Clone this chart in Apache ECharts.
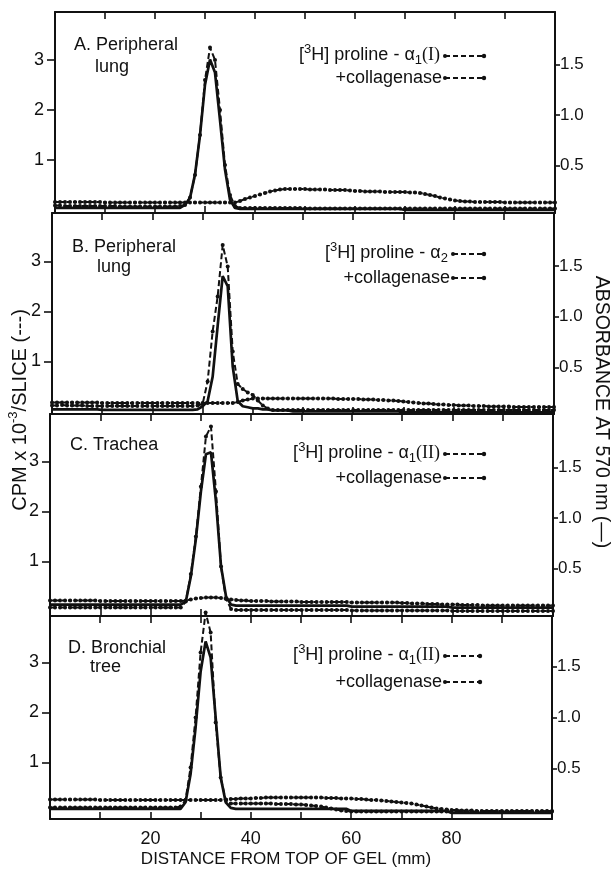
<!DOCTYPE html>
<html><head><meta charset="utf-8">
<script src="https://cdn.jsdelivr.net/npm/echarts@6/dist/echarts.min.js"></script>
<style>html,body{margin:0;padding:0;background:#fff}#c{width:612px;height:870px}</style>
</head><body><div id="c"></div>
<script>
// ---------- DATA ----------
const X_MM = [0,1,2,3,4,5,6,7,8,9,10,11,12,13,14,15,16,17,18,19,20,21,22,23,24,25,26,27,28,29,30,31,32,33,34,35,36,37,38,39,40,41,42,43,44,45,46,47,48,49,50,51,52,53,54,55,56,57,58,59,60,61,62,63,64,65,66,67,68,69,70,71,72,73,74,75,76,77,78,79,80,81,82,83,84,85,86,87,88,89,90,91,92,93,94,95,96,97,98,99,100];

// Panel A: peripheral lung, alpha1(I)
const CPM_A = [0.09,0.09,0.08,0.08,0.08,0.08,0.08,0.08,0.08,0.08,
 0.08,0.08,0.08,0.07,0.07,0.07,0.07,0.07,0.07,0.07,
 0.07,0.07,0.07,0.07,0.07,0.08,0.10,0.25,0.70,1.50,
 2.60,3.25,3.00,2.00,0.90,0.30,0.08,0.04,0.04,0.04,
 0.04,0.04,0.04,0.04,0.04,0.04,0.04,0.04,0.04,0.04,
 0.03,0.03,0.03,0.03,0.03,0.03,0.03,0.03,0.03,0.03,
 0.03,0.03,0.03,0.03,0.03,0.03,0.03,0.03,0.03,0.03,
 0.03,0.03,0.03,0.03,0.03,0.03,0.03,0.03,0.03,0.03,
 0.03,0.03,0.03,0.03,0.03,0.03,0.03,0.03,0.03,0.03,
 0.03,0.03,0.03,0.03,0.03,0.03,0.03,0.03,0.03,0.03,0.03];
const ABS_A = [0.08,0.08,0.08,0.08,0.08,0.08,0.08,0.08,0.08,0.08,
 0.08,0.08,0.08,0.08,0.08,0.08,0.08,0.08,0.08,0.08,
 0.08,0.08,0.08,0.08,0.08,0.08,0.11,0.18,0.41,0.80,
 1.30,1.55,1.42,0.95,0.46,0.16,0.08,0.07,0.07,0.07,
 0.07,0.07,0.07,0.07,0.07,0.07,0.07,0.07,0.07,0.07,
 0.07,0.07,0.07,0.07,0.07,0.07,0.07,0.07,0.07,0.07,
 0.07,0.07,0.07,0.07,0.07,0.07,0.07,0.07,0.07,0.07,
 0.06,0.06,0.06,0.06,0.06,0.06,0.06,0.06,0.06,0.06,
 0.06,0.06,0.06,0.06,0.06,0.06,0.06,0.06,0.06,0.06,
 0.06,0.06,0.06,0.06,0.06,0.06,0.06,0.06,0.06,0.06,0.06];
const COL_A = [0.16,0.16,0.16,0.16,0.16,0.16,0.16,0.16,0.16,0.16,
 0.15,0.15,0.15,0.15,0.15,0.15,0.15,0.15,0.15,0.15,
 0.15,0.15,0.15,0.15,0.15,0.15,0.15,0.15,0.15,0.15,
 0.15,0.15,0.15,0.15,0.15,0.15,0.15,0.18,0.22,0.25,
 0.28,0.31,0.34,0.37,0.39,0.41,0.42,0.42,0.42,0.42,
 0.42,0.41,0.41,0.41,0.41,0.40,0.40,0.40,0.40,0.39,
 0.38,0.38,0.37,0.37,0.37,0.37,0.36,0.36,0.36,0.36,
 0.36,0.35,0.35,0.34,0.32,0.30,0.28,0.25,0.23,0.21,
 0.19,0.18,0.17,0.17,0.16,0.16,0.16,0.16,0.16,0.16,
 0.15,0.15,0.15,0.15,0.15,0.15,0.15,0.15,0.15,0.15,0.15];

// Panel B: peripheral lung, alpha2
const CPM_B = [0.12,0.12,0.13,0.12,0.12,0.12,0.12,0.11,0.11,0.11,
 0.11,0.11,0.11,0.11,0.11,0.11,0.11,0.11,0.11,0.11,
 0.11,0.11,0.11,0.11,0.11,0.11,0.11,0.11,0.11,0.12,
 0.15,0.60,1.60,2.30,3.33,2.90,1.20,0.55,0.45,0.38,
 0.33,0.22,0.12,0.06,0.03,0.03,0.03,0.03,0.03,0.03,
 0.03,0.03,0.03,0.03,0.03,0.03,0.03,0.03,0.03,0.03,
 0.03,0.03,0.03,0.03,0.03,0.03,0.03,0.03,0.03,0.03,
 0.03,0.03,0.03,0.03,0.03,0.03,0.03,0.03,0.03,0.03,
 0.03,0.03,0.03,0.03,0.03,0.03,0.03,0.03,0.03,0.03,
 0.03,0.03,0.03,0.03,0.03,0.03,0.03,0.03,0.03,0.03,0.03];
const ABS_B = [0.09,0.09,0.09,0.09,0.09,0.09,0.09,0.09,0.09,0.09,
 0.085,0.085,0.085,0.085,0.085,0.085,0.085,0.085,0.085,0.085,
 0.085,0.085,0.085,0.085,0.085,0.085,0.085,0.085,0.085,0.09,
 0.12,0.17,0.41,0.91,1.40,1.30,0.51,0.17,0.12,0.11,
 0.10,0.10,0.09,0.09,0.08,0.08,0.08,0.08,0.07,0.07,
 0.07,0.07,0.07,0.07,0.07,0.07,0.07,0.07,0.07,0.07,
 0.07,0.07,0.07,0.07,0.07,0.07,0.07,0.07,0.07,0.07,
 0.06,0.06,0.06,0.06,0.06,0.06,0.06,0.06,0.06,0.06,
 0.06,0.06,0.06,0.06,0.06,0.06,0.06,0.06,0.06,0.06,
 0.06,0.06,0.06,0.06,0.06,0.06,0.06,0.06,0.06,0.06,0.06];
const COL_B = [0.18,0.18,0.18,0.18,0.18,0.18,0.18,0.18,0.18,0.18,
 0.17,0.17,0.17,0.17,0.17,0.17,0.17,0.17,0.17,0.17,
 0.17,0.17,0.17,0.17,0.17,0.17,0.17,0.17,0.17,0.17,
 0.17,0.17,0.17,0.17,0.17,0.17,0.17,0.19,0.22,0.24,
 0.26,0.26,0.26,0.26,0.26,0.26,0.26,0.26,0.26,0.26,
 0.26,0.26,0.26,0.26,0.26,0.26,0.26,0.25,0.25,0.25,
 0.25,0.25,0.24,0.24,0.24,0.23,0.23,0.22,0.22,0.21,
 0.20,0.19,0.18,0.17,0.16,0.16,0.15,0.14,0.14,0.13,
 0.13,0.12,0.12,0.12,0.11,0.11,0.11,0.10,0.10,0.10,
 0.10,0.10,0.09,0.09,0.09,0.09,0.09,0.09,0.09,0.09,0.09];

// Panel C: trachea, alpha1(II)
const CPM_C = [0.08,0.08,0.08,0.08,0.08,0.08,0.08,0.08,0.08,0.08,
 0.08,0.08,0.08,0.08,0.08,0.08,0.08,0.08,0.08,0.08,
 0.08,0.08,0.08,0.08,0.08,0.08,0.08,0.20,0.75,1.50,
 2.50,3.50,3.70,2.40,0.90,0.25,0.05,0.03,0.03,0.03,
 0.03,0.03,0.03,0.03,0.03,0.03,0.03,0.03,0.03,0.03,
 0.03,0.03,0.03,0.03,0.03,0.03,0.03,0.03,0.03,0.03,
 0.02,0.02,0.02,0.02,0.02,0.02,0.02,0.02,0.02,0.02,
 0.02,0.02,0.02,0.02,0.02,0.02,0.02,0.02,0.02,0.02,
 0.01,0.01,0.01,0.01,0.01,0.01,0.01,0.01,0.01,0.01,
 0.01,0.01,0.01,0.01,0.01,0.01,0.01,0.01,0.01,0.01,0.01];
const ABS_C = [0.14,0.14,0.14,0.14,0.14,0.14,0.14,0.14,0.14,0.14,
 0.14,0.14,0.14,0.14,0.14,0.14,0.14,0.14,0.14,0.14,
 0.14,0.14,0.14,0.14,0.14,0.14,0.14,0.17,0.42,0.79,
 1.26,1.63,1.65,1.16,0.52,0.22,0.14,0.13,0.13,0.13,
 0.13,0.13,0.13,0.13,0.13,0.13,0.13,0.13,0.13,0.13,
 0.13,0.13,0.13,0.13,0.13,0.13,0.13,0.13,0.13,0.13,
 0.12,0.12,0.12,0.12,0.12,0.12,0.12,0.12,0.12,0.12,
 0.12,0.12,0.12,0.12,0.12,0.12,0.12,0.12,0.12,0.12,
 0.11,0.11,0.11,0.11,0.11,0.11,0.11,0.11,0.11,0.11,
 0.11,0.11,0.11,0.11,0.11,0.11,0.11,0.11,0.11,0.11,0.11];
const COL_C = [0.22,0.22,0.22,0.22,0.22,0.22,0.22,0.22,0.22,0.22,
 0.21,0.21,0.21,0.21,0.21,0.21,0.21,0.21,0.21,0.21,
 0.21,0.21,0.21,0.21,0.21,0.21,0.21,0.22,0.24,0.26,
 0.27,0.28,0.28,0.28,0.27,0.26,0.24,0.23,0.22,0.22,
 0.21,0.21,0.21,0.21,0.20,0.20,0.20,0.20,0.20,0.20,
 0.19,0.19,0.19,0.19,0.19,0.19,0.19,0.19,0.19,0.19,
 0.18,0.18,0.18,0.18,0.18,0.18,0.18,0.18,0.18,0.18,
 0.17,0.17,0.16,0.16,0.16,0.15,0.15,0.15,0.14,0.14,
 0.14,0.14,0.13,0.13,0.13,0.13,0.12,0.12,0.12,0.12,
 0.12,0.12,0.12,0.12,0.12,0.12,0.12,0.12,0.12,0.12,0.12];

// Panel D: bronchial tree, alpha1(II)
const CPM_D = [0.10,0.10,0.10,0.10,0.10,0.10,0.10,0.10,0.10,0.10,
 0.10,0.10,0.10,0.10,0.10,0.10,0.10,0.10,0.10,0.10,
 0.10,0.10,0.10,0.10,0.10,0.10,0.12,0.25,0.90,1.90,
 3.20,4.00,3.60,1.80,0.70,0.25,0.18,0.18,0.18,0.18,
 0.18,0.18,0.18,0.18,0.18,0.17,0.17,0.17,0.17,0.16,
 0.16,0.15,0.14,0.13,0.12,0.10,0.08,0.06,0.04,0.03,
 0.02,0.02,0.02,0.02,0.02,0.02,0.02,0.02,0.02,0.02,
 0.02,0.02,0.02,0.02,0.02,0.02,0.02,0.02,0.02,0.02,
 0.02,0.02,0.02,0.02,0.02,0.02,0.02,0.02,0.02,0.02,
 0.02,0.02,0.02,0.02,0.02,0.02,0.02,0.02,0.02,0.02,0.02];
const ABS_D = [0.10,0.10,0.10,0.10,0.10,0.10,0.10,0.10,0.10,0.10,
 0.10,0.10,0.10,0.10,0.10,0.10,0.10,0.10,0.10,0.10,
 0.10,0.10,0.10,0.10,0.10,0.10,0.10,0.165,0.44,0.90,
 1.45,1.75,1.59,1.00,0.41,0.165,0.11,0.10,0.10,0.10,
 0.10,0.10,0.10,0.10,0.10,0.10,0.10,0.10,0.10,0.10,
 0.10,0.10,0.10,0.10,0.10,0.10,0.10,0.10,0.10,0.10,
 0.08,0.08,0.08,0.08,0.08,0.08,0.08,0.08,0.08,0.08,
 0.08,0.08,0.08,0.08,0.08,0.08,0.08,0.08,0.08,0.08,
 0.06,0.06,0.06,0.06,0.06,0.06,0.06,0.06,0.06,0.06,
 0.06,0.06,0.06,0.06,0.06,0.06,0.06,0.06,0.06,0.06,0.06];
const COL_D = [0.26,0.26,0.26,0.26,0.26,0.26,0.26,0.26,0.26,0.26,
 0.25,0.25,0.25,0.25,0.25,0.25,0.25,0.25,0.25,0.25,
 0.25,0.25,0.25,0.25,0.25,0.25,0.25,0.25,0.25,0.25,
 0.25,0.25,0.25,0.25,0.25,0.26,0.27,0.27,0.28,0.28,
 0.28,0.29,0.29,0.30,0.30,0.30,0.30,0.30,0.30,0.30,
 0.30,0.30,0.30,0.30,0.30,0.29,0.29,0.29,0.28,0.28,
 0.28,0.27,0.27,0.26,0.25,0.25,0.24,0.23,0.22,0.21,
 0.20,0.19,0.18,0.16,0.14,0.12,0.10,0.08,0.07,0.06,
 0.05,0.05,0.04,0.04,0.04,0.03,0.03,0.03,0.03,0.03,
 0.03,0.03,0.03,0.03,0.03,0.03,0.03,0.03,0.03,0.03,0.03];

const X_LABELS = [20, 40, 60, 80];
const CPM_TICKS = [1, 2, 3];
const ABS_TICKS = [0.5, 1.0, 1.5];
const PANEL_TITLES = [['A. Peripheral', 'lung'], ['B. Peripheral', 'lung'], ['C. Trachea'], ['D. Bronchial', 'tree']];
const CHAIN_SUB = ['1', '2', '1', '1'];
const CHAIN_TYPE = ['(I)', '', '(II)', '(II)'];
const LEGEND_2 = '+collagenase';

const CPM = [CPM_A, CPM_B, CPM_C, CPM_D];
const ABS = [ABS_A, ABS_B, ABS_C, ABS_D];
const COL = [COL_A, COL_B, COL_C, COL_D];

// ---------- LAYOUT ----------
const GRIDS = [
  {left: 55, top: 12, width: 500, height: 201},
  {left: 52, top: 213, width: 502, height: 201},
  {left: 50, top: 414, width: 503, height: 202},
  {left: 50, top: 616, width: 502, height: 203}
];
const CPM_RANGE = [[-0.06, 3.96], [-0.05, 3.97], [-0.09, 3.95], [-0.13, 3.93]];
const ABS_RANGE = [[0.03, 2.02], [0.044, 2.02], [0.027, 2.03], [0.0, 2.0]];
const FONT = 'Liberation Sans';
const BLACK = '#111';

const chart = echarts.init(document.getElementById('c'), null, {renderer: 'canvas'});
const xAxis = [], yAxis = [], series = [], graphic = [];

GRIDS.forEach((g, i) => {
  ['bottom', 'top'].forEach(pos => {
    const showLab = (i === 3 && pos === 'bottom');
    xAxis.push({
      type: 'value', gridIndex: i, position: pos, min: 0, max: 100, interval: 10,
      axisLine: {show: true, onZero: false, lineStyle: {color: BLACK, width: 2}},
      axisTick: {show: true, inside: true, length: 7, lineStyle: {color: BLACK, width: 1.6}},
      splitLine: {show: false},
      axisLabel: showLab ? {show: true, customValues: X_LABELS, margin: 11, color: BLACK, fontFamily: FONT, fontSize: 18} : {show: false}
    });
  });
  yAxis.push({
    type: 'value', gridIndex: i, position: 'left', min: CPM_RANGE[i][0], max: CPM_RANGE[i][1],
    axisLine: {show: true, onZero: false, lineStyle: {color: BLACK, width: 2}},
    axisTick: {show: true, inside: false, length: 8, customValues: CPM_TICKS, lineStyle: {color: BLACK, width: 1.6}},
    splitLine: {show: false},
    axisLabel: {customValues: CPM_TICKS, margin: 11, color: BLACK, fontFamily: FONT, fontSize: 18}
  });
  yAxis.push({
    type: 'value', gridIndex: i, position: 'right', min: ABS_RANGE[i][0], max: ABS_RANGE[i][1],
    axisLine: {show: true, onZero: false, lineStyle: {color: BLACK, width: 2}},
    axisTick: {show: true, inside: false, length: 5, customValues: ABS_TICKS, lineStyle: {color: BLACK, width: 1.6}},
    splitLine: {show: false},
    axisLabel: {customValues: ABS_TICKS, margin: 5, color: BLACK, fontFamily: FONT, fontSize: 17,
      formatter: v => v.toFixed(1)}
  });

  // absorbance (solid)
  series.push({
    type: 'line', xAxisIndex: 2 * i, yAxisIndex: 2 * i + 1,
    data: X_MM.map((x, k) => [x, ABS[i][k]]),
    showSymbol: false, symbol: 'none',
    lineStyle: {color: BLACK, width: 2.7}, z: 3
  });
  // [3H] proline CPM (dashed with dots)
  series.push({
    type: 'line', xAxisIndex: 2 * i, yAxisIndex: 2 * i,
    data: X_MM.map((x, k) => [x, CPM[i][k]]),
    symbol: 'circle', symbolSize: 4, clip: false,
    itemStyle: {color: BLACK}, lineStyle: {color: BLACK, width: 2, type: [6, 3]}, z: 4
  });
  // + collagenase CPM (dashed with dots)
  series.push({
    type: 'line', xAxisIndex: 2 * i, yAxisIndex: 2 * i,
    data: X_MM.map((x, k) => [x, COL[i][k]]),
    symbol: 'circle', symbolSize: 4,
    itemStyle: {color: BLACK}, lineStyle: {color: BLACK, width: 2, type: [4, 2]}, z: 4
  });
});

// ---------- TEXT / DECORATIONS ----------
const txt = (x, y, text, size, extra) => Object.assign({
  type: 'text', x: x, y: y, silent: true,
  style: Object.assign({text: text, fill: BLACK, font: size + 'px "' + FONT + '"', align: 'left', verticalAlign: 'middle'}, extra || {})
});
const RICH = {
  n: {fontSize: 18, fontFamily: FONT, lineHeight: 24, verticalAlign: 'middle', color: BLACK},
  t: {fontSize: 20, fontFamily: FONT, lineHeight: 26, verticalAlign: 'middle', color: BLACK},
  sup: {fontSize: 13, fontFamily: FONT, lineHeight: 13, verticalAlign: 'top', color: BLACK},
  sub: {fontSize: 13, fontFamily: FONT, lineHeight: 13, verticalAlign: 'bottom', color: BLACK},
  rom: {fontSize: 18, fontFamily: 'Liberation Serif', lineHeight: 24, verticalAlign: 'middle', color: BLACK}
};
const TITLE_POS = [[[74, 45], [95, 67]], [[72, 247], [97, 267]], [[70, 445]], [[68, 648], [90, 667]]];
const LEG_Y = [[55, 78], [253, 278], [453, 478], [655, 682]];
const LEG_X_END = [440, 448, 440, 440];

function marker(x1, x2, y) {
  return {type: 'group', silent: true, children: [
    {type: 'line', shape: {x1: x1, y1: y, x2: x2, y2: y}, style: {stroke: BLACK, lineWidth: 1.8, lineDash: [5, 3]}},
    {type: 'circle', shape: {cx: x1, cy: y, r: 2}, style: {fill: BLACK}},
    {type: 'circle', shape: {cx: x2, cy: y, r: 2.2}, style: {fill: BLACK}}
  ]};
}

for (let i = 0; i < 4; i++) {
  PANEL_TITLES[i].forEach((t, j) => {
    graphic.push(txt(TITLE_POS[i][j][0], TITLE_POS[i][j][1], t, 18));
  });
  const label1 = '{n|[}{sup|3}{n|H] proline - α}{sub|' + CHAIN_SUB[i] + '}' + (CHAIN_TYPE[i] ? '{rom|' + CHAIN_TYPE[i] + '}' : '');
  graphic.push({type: 'text', x: LEG_X_END[i], y: LEG_Y[i][0], silent: true,
    style: {text: label1, rich: RICH, align: 'right', verticalAlign: 'middle', fill: BLACK}});
  graphic.push(txt(LEG_X_END[i] + 2, LEG_Y[i][1], LEGEND_2, 18, {align: 'right'}));
  graphic.push(marker(LEG_X_END[i] + 5, i === 3 ? 480 : 484, LEG_Y[i][0] + 1));
  graphic.push(marker(LEG_X_END[i] + 5, i === 3 ? 480 : 484, LEG_Y[i][1]));
}

// axis titles
graphic.push({type: 'text', x: 20, y: 410, rotation: Math.PI / 2, silent: true,
  style: {text: '{t|CPM x 10}{sup|-3}{t|/SLICE (---)}', rich: RICH, align: 'center', verticalAlign: 'middle', fill: BLACK}});
graphic.push({type: 'text', x: 601, y: 412, rotation: -Math.PI / 2, silent: true,
  style: {text: 'ABSORBANCE AT 570 nm (—)', fill: BLACK, font: '19.5px "' + FONT + '"', align: 'center', verticalAlign: 'middle'}});
graphic.push(txt(286, 859, 'DISTANCE FROM TOP OF GEL (mm)', 17, {align: 'center'}));

chart.setOption({
  animation: false,
  backgroundColor: '#fff',
  grid: GRIDS.map(g => Object.assign({containLabel: false}, g)),
  xAxis: xAxis,
  yAxis: yAxis,
  series: series,
  graphic: graphic
});
</script>
</body></html>
